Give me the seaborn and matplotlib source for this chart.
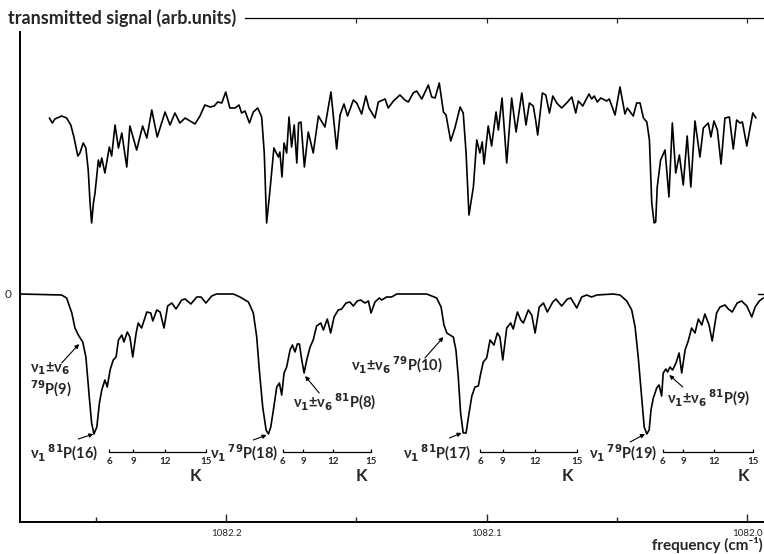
import numpy as np
import pandas as pd
import seaborn as sns
from matplotlib import pyplot as plt

# frequency given as offset from 1082 cm-1, in units of 1e-3 cm-1
# signal in arb. units, 0 = baseline of the lower (computed) trace
upper_offset = [267.9, 266.8, 265.8, 263.2, 261.3, 259.7, 258.5, 257.0, 256.2, 254.9,
                253.9, 253.0, 252.3, 251.7, 251.0, 250.4, 249.1, 248.5, 247.8, 246.6,
                244.9, 244.0, 242.7, 241.4, 240.1, 238.2, 237.0, 234.4, 232.1, 230.5,
                228.6, 226.5, 223.5, 221.6, 219.7, 217.8, 215.8, 213.9, 212.0, 210.1,
                208.2, 206.2, 204.6, 203.3, 201.7, 200.2, 198.6, 196.6, 195.1, 194.1,
                192.8, 191.1, 189.6, 187.9, 186.4, 185.4, 184.5, 183.2, 181.7, 180.0,
                179.4, 178.6, 177.8, 176.8, 175.9, 174.9, 173.9, 172.9, 172.2, 171.3,
                170.0, 168.5, 166.6, 164.6, 162.1, 159.8, 157.6, 156.3, 154.8, 153.4,
                151.2, 149.9, 148.0, 146.4, 145.2, 142.9, 141.6, 139.0, 137.8, 135.8,
                133.3, 131.4, 130.1, 128.2, 126.9, 124.9, 122.4, 121.1, 119.8, 118.2,
                116.6, 115.6, 113.8, 112.2, 110.2, 109.0, 107.9, 106.8, 105.1, 103.8,
                102.6, 101.7, 101.0, 99.4, 98.1, 96.4, 95.5, 94.1, 92.3, 90.4,
                88.7, 86.5, 84.9, 83.6, 82.1, 81.2, 80.4, 78.6, 77.3, 75.9,
                74.6, 73.1, 71.2, 69.3, 67.3, 65.8, 64.8, 63.1, 60.7, 59.7,
                58.7, 57.5, 56.2, 53.9, 52.9, 50.7, 48.8, 46.9, 46.0, 43.7,
                42.4, 41.1, 39.8, 38.5, 37.5, 36.6, 35.7, 35.1, 34.5, 33.2,
                31.5, 30.0, 28.7, 27.4, 26.0, 24.5, 23.0, 21.6, 20.0, 18.1,
                16.8, 14.9, 13.9, 12.7, 11.4, 10.0, 8.5, 6.8, 5.3, 4.0,
                2.7, 1.8, 0.1, -2.2, -3.4]
upper_signal = [1.76, 1.71, 1.75, 1.78, 1.76, 1.69, 1.57, 1.38, 1.41, 1.51,
                1.46, 1.24, 0.91, 0.71, 0.91, 1.01, 1.34, 1.27, 1.36, 1.21,
                1.47, 1.38, 1.69, 1.46, 1.61, 1.27, 1.68, 1.44, 1.68, 1.56,
                1.84, 1.57, 1.82, 1.69, 1.81, 1.71, 1.76, 1.73, 1.70, 1.78,
                1.89, 1.87, 1.88, 1.92, 1.91, 2.02, 1.86, 1.86, 1.89, 1.81,
                1.83, 1.71, 1.82, 1.86, 1.77, 1.41, 0.71, 1.04, 1.46, 1.37,
                1.42, 1.17, 1.51, 1.41, 1.77, 1.47, 1.69, 1.31, 1.71, 1.72,
                1.27, 1.62, 1.41, 1.78, 1.67, 2.02, 1.45, 1.79, 1.90, 1.78,
                1.94, 1.91, 1.80, 1.98, 1.86, 1.76, 1.92, 1.95, 1.86, 1.93,
                1.99, 1.94, 1.92, 2.01, 2.03, 1.95, 2.09, 1.97, 1.96, 2.11,
                1.82, 1.79, 1.53, 1.66, 1.87, 1.81, 1.41, 0.79, 1.07, 1.54,
                1.41, 1.52, 1.30, 1.68, 1.48, 1.82, 1.64, 1.96, 1.31, 1.96,
                1.62, 2.01, 1.69, 1.91, 1.88, 1.74, 1.59, 2.01, 1.99, 1.81,
                1.98, 1.91, 1.86, 1.91, 1.97, 1.81, 1.93, 1.88, 2.00, 1.95,
                1.98, 1.92, 1.96, 1.93, 1.95, 1.79, 2.07, 1.80, 1.86, 1.78,
                1.91, 1.91, 1.76, 1.72, 1.54, 0.91, 0.71, 0.72, 1.07, 1.34,
                1.44, 0.97, 1.71, 1.21, 1.39, 1.09, 1.58, 1.07, 1.73, 1.37,
                1.66, 1.71, 1.57, 1.73, 1.64, 1.30, 1.76, 1.77, 1.45, 1.74,
                1.71, 1.72, 1.48, 1.81, 1.76]

lower_offset = [279.2, 263.2, 261.3, 259.3, 258.1, 256.8, 255.1, 253.9, 252.6, 251.7,
                250.8, 249.7, 248.7, 247.8, 246.6, 245.7, 244.6, 243.4, 242.3, 241.4,
                240.1, 239.3, 238.0, 237.0, 235.9, 234.6, 233.8, 232.5, 230.5, 229.0,
                228.2, 226.7, 225.4, 223.9, 222.5, 220.9, 219.3, 217.1, 215.8, 213.6,
                211.3, 209.7, 207.8, 205.6, 203.7, 197.3, 194.7, 191.5, 189.6, 188.3,
                187.3, 186.0, 184.7, 183.8, 182.9, 181.9, 180.6, 179.6, 178.7, 177.8,
                176.8, 175.5, 174.6, 173.6, 172.7, 171.9, 171.0, 170.1, 169.1, 167.8,
                166.6, 165.3, 163.7, 162.7, 161.2, 159.9, 158.6, 157.0, 155.7, 154.0,
                152.5, 151.2, 149.7, 148.4, 146.7, 145.4, 144.4, 142.9, 141.2, 140.3,
                138.4, 136.5, 134.5, 123.0, 119.2, 117.5, 116.4, 115.3, 114.1, 112.8,
                111.8, 110.9, 110.0, 109.0, 107.9, 107.0, 105.7, 104.5, 103.2, 102.4,
                101.3, 100.0, 98.7, 97.2, 95.9, 94.9, 93.8, 92.3, 90.8, 89.8,
                88.2, 86.9, 85.9, 84.0, 82.7, 81.4, 79.8, 78.2, 76.7, 74.6,
                73.4, 71.2, 69.0, 67.7, 65.4, 63.5, 61.6, 59.7, 57.7, 51.4,
                48.8, 46.2, 44.3, 43.0, 41.8, 40.5, 39.5, 38.5, 37.6, 36.9,
                36.0, 34.7, 33.8, 32.8, 32.2, 31.2, 30.5, 29.6, 28.6, 27.3,
                26.1, 25.1, 23.8, 22.6, 21.3, 20.0, 18.7, 17.4, 16.2, 14.6,
                13.4, 11.7, 10.4, 8.5, 7.2, 5.7, 3.8, 2.1, 0.1, -1.8,
                -3.1, -4.7, -6.2]
lower_signal = [0.00, -0.01, -0.04, -0.19, -0.34, -0.41, -0.48, -0.63, -1.03, -1.29,
                -1.40, -1.33, -1.09, -0.96, -0.86, -0.93, -0.76, -0.66, -0.63, -0.46,
                -0.41, -0.48, -0.38, -0.43, -0.63, -0.39, -0.29, -0.34, -0.18, -0.19,
                -0.27, -0.16, -0.18, -0.34, -0.12, -0.09, -0.15, -0.06, -0.05, -0.10,
                -0.03, -0.03, -0.09, -0.02, 0.00, 0.00, -0.03, -0.08, -0.19, -0.43,
                -0.76, -1.13, -1.36, -1.40, -1.33, -1.16, -0.93, -0.89, -1.01, -0.79,
                -0.73, -0.56, -0.51, -0.58, -0.50, -0.50, -0.66, -0.79, -0.66, -0.53,
                -0.46, -0.32, -0.29, -0.36, -0.25, -0.39, -0.23, -0.16, -0.15, -0.09,
                -0.08, -0.12, -0.07, -0.06, -0.09, -0.07, -0.19, -0.08, -0.04, -0.06,
                -0.03, -0.03, 0.00, 0.00, -0.04, -0.13, -0.31, -0.39, -0.41, -0.43,
                -0.56, -0.83, -1.19, -1.39, -1.39, -1.23, -1.02, -0.93, -0.92, -0.81,
                -0.68, -0.64, -0.46, -0.51, -0.39, -0.43, -0.66, -0.34, -0.29, -0.35,
                -0.18, -0.26, -0.29, -0.16, -0.21, -0.39, -0.13, -0.09, -0.18, -0.08,
                -0.05, -0.12, -0.05, -0.04, -0.14, -0.03, -0.01, -0.03, -0.01, 0.00,
                -0.01, -0.07, -0.16, -0.33, -0.63, -1.03, -1.33, -1.40, -1.36, -1.16,
                -1.04, -0.94, -0.91, -1.02, -0.79, -0.75, -0.78, -0.73, -0.76, -0.69,
                -0.59, -0.79, -0.56, -0.47, -0.34, -0.39, -0.25, -0.31, -0.20, -0.31,
                -0.47, -0.19, -0.13, -0.11, -0.15, -0.18, -0.09, -0.07, -0.12, -0.23,
                -0.13, -0.07, -0.04]

# K scales under each nu1 line (offsets of K = 6, 9, 12, 15)
k_values = [6, 9, 12, 15]
k_scale_offsets = [[244.9, 235.7, 223.5, 207.8],
                   [178.3, 170.4, 158.9, 144.4],
                   [102.4, 93.8, 81.4, 65.4],
                   [32.4, 24.5, 12.6, -2.2]]
k_letter_offsets = [212.0, 148.0, 69.0, 1.4]

# line assignments: text, text position, arrow tail, arrow head
labels = [r"ν$_1\,^{81}$P(16)", r"ν$_1\,^{79}$P(18)", r"ν$_1\,^{81}$P(17)", r"ν$_1\,^{79}$P(19)",
          "ν$_1$±ν$_6$\n$^{79}$P(9)", r"ν$_1$±ν$_6\,^{81}$P(8)",
          r"ν$_1$±ν$_6\,^{79}$P(10)", r"ν$_1$±ν$_6\,^{81}$P(9)"]
label_pos = [(262.3, -1.59), (193.0, -1.59), (119.2, -1.59), (47.8, -1.59),
             (267.5, -0.86), (158.2, -1.08), (134.5, -0.71), (14.9, -1.04)]
arrow_tail = [(256.8, -1.45), (189.6, -1.46), (114.3, -1.44), (44.9, -1.48),
              (263.2, -0.69), (164.3, -0.99), (123.7, -0.64), (24.7, -0.93)]
arrow_head = [(251.0, -1.40), (184.5, -1.41), (109.6, -1.39), (39.2, -1.40),
              (256.5, -0.50), (169.7, -0.82), (116.6, -0.43), (29.9, -0.81)]

major_ticks = [1082.2, 1082.1, 1082.0]
minor_ticks = [1082.25, 1082.15, 1082.05]
top_ticks = [1082.15, 1082.1, 1082.05, 1082.0]


def to_freq(off):
    return 1082 + np.asarray(off) / 1000.0


sns.set_style('white')
plt.rcParams['font.family'] = ['Lato', 'DejaVu Sans']
plt.rcParams['mathtext.fontset'] = 'dejavusans'
plt.rcParams['mathtext.default'] = 'bf'

upper = pd.DataFrame({'freq': to_freq(upper_offset), 'signal': upper_signal})
lower = pd.DataFrame({'freq': to_freq(lower_offset), 'signal': lower_signal})

fig = plt.figure(figsize=(7.64, 5.54), dpi=100)
ax = fig.add_axes([20 / 764, 1 - 522 / 554, 744 / 764, 504 / 554])

sns.lineplot(data=upper, x='freq', y='signal', sort=False, estimator=None,
             color='black', lw=1.2, ax=ax)
sns.lineplot(data=lower, x='freq', y='signal', sort=False, estimator=None,
             color='black', lw=1.2, ax=ax)

x_left, x_right = 1082.2792, 1081.9935
ax.set_xlim(x_left, x_right)
ax.set_ylim(-2.28, 2.76)
ax.set_xlabel('')
ax.set_ylabel('')

# bottom axis
ax.set_xticks(major_ticks)
ax.set_xticklabels(['1082.2', '1082.1', '1082.0'])
ax.set_xticks(minor_ticks, minor=True)
ax.tick_params(axis='x', which='major', direction='in', length=6, width=1.0,
               labelsize=7, pad=5, bottom=True)
ax.tick_params(axis='x', which='minor', direction='in', length=3.5, width=1.0, bottom=True)

# zero level
ax.set_yticks([0])
ax.set_yticklabels(['0'])
ax.tick_params(axis='y', length=0, pad=6, labelsize=8.5)
ax.axhline(0, xmin=0.992, xmax=1.0, color='black', lw=1.0)

for side in ['left', 'bottom', 'top']:
    ax.spines[side].set_color('black')
    ax.spines[side].set_linewidth(1.4)
ax.spines['right'].set_visible(False)
ax.spines['left'].set_bounds(-2.28, 2.62)
ax.spines['top'].set_bounds(1082.1928, x_right)
ax.spines['top'].set_linewidth(0.9)

secax = ax.secondary_xaxis('top')
secax.set_xticks(top_ticks)
secax.tick_params(direction='in', length=3.5, width=0.9, labeltop=False)
secax.spines['top'].set_visible(False)

# K scales
for offs in k_scale_offsets:
    fx = to_freq(offs)
    ax.plot([fx[0], fx[-1]], [-1.583, -1.583], color='black', lw=0.9)
    ax.vlines(fx, -1.583, -1.55, color='black', lw=0.9)
    for f, k in zip(fx, k_values):
        ax.text(f, -1.63, str(k), ha='center', va='top', fontsize=7, fontweight='bold')
for off in k_letter_offsets:
    ax.text(to_freq(off), -1.82, 'K', ha='center', va='center', fontsize=12, fontweight='bold')

# assignments
for txt, pos, tail, head in zip(labels, label_pos, arrow_tail, arrow_head):
    ax.text(to_freq(pos[0]), pos[1], txt, ha='center', va='center', fontsize=10.5,
            fontweight='bold', linespacing=1.1)
    ax.annotate('', xy=(to_freq(head[0]), head[1]), xytext=(to_freq(tail[0]), tail[1]),
                arrowprops=dict(arrowstyle='-|>', color='black', lw=0.8,
                                mutation_scale=6, shrinkA=0, shrinkB=0))

fig.text(8 / 764, 1 - 24 / 554, 'transmitted signal (arb.units)', ha='left', va='baseline',
         fontsize=13, fontweight='bold')
fig.text(763 / 764, 1 - 550 / 554, 'frequency (cm⁻¹)', ha='right', va='baseline',
         fontsize=11, fontweight='bold')

fig.savefig('out.png', dpi=100)
